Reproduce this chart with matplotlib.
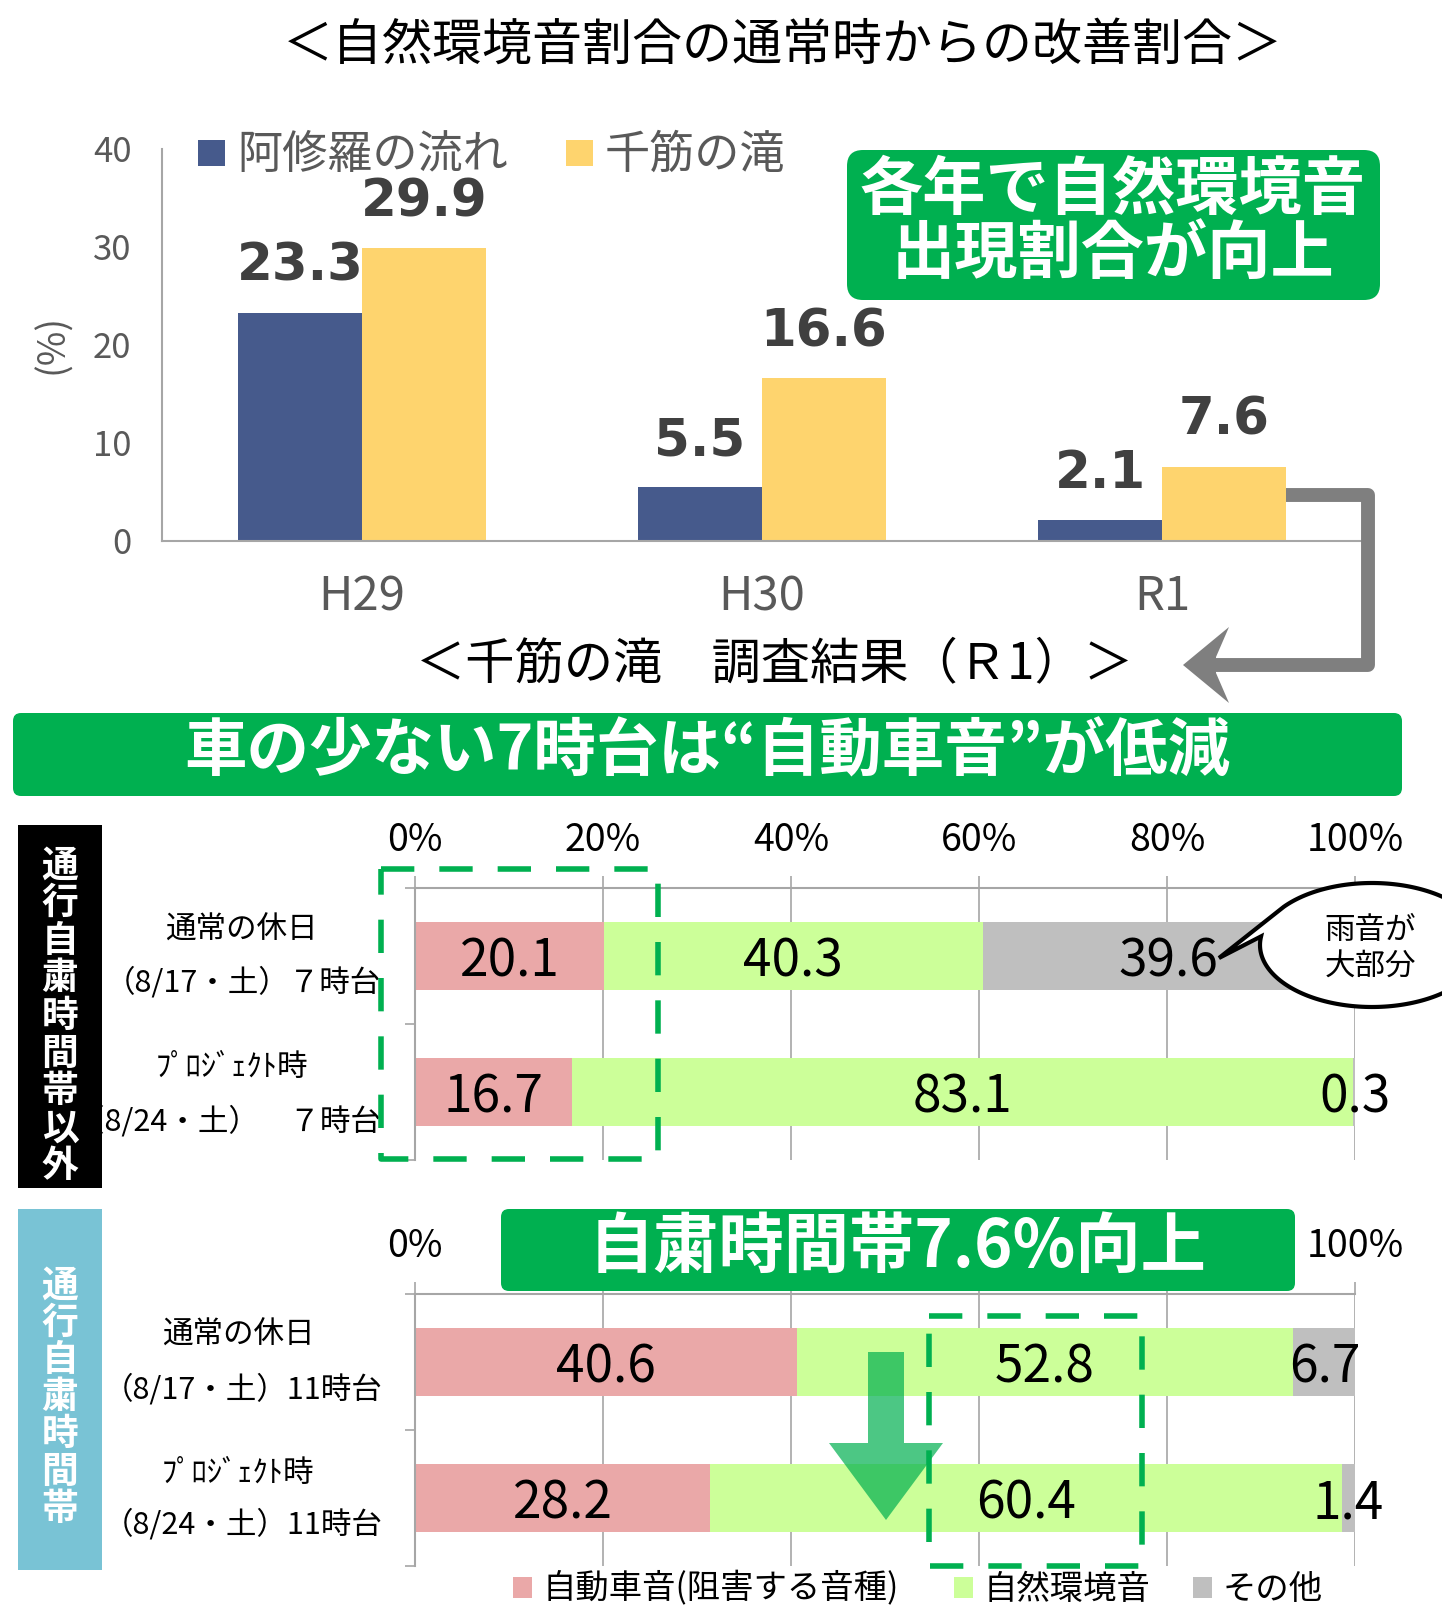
import matplotlib
matplotlib.use('Agg')
import matplotlib.pyplot as plt
import numpy as np
from matplotlib.patches import Rectangle, FancyBboxPatch, Polygon
from matplotlib.lines import Line2D
from matplotlib.transforms import Affine2D

plt.rcParams['font.family'] = ['Noto Sans CJK JP', 'DejaVu Sans']

# ---------------- data ----------------
title = '＜自然環境音割合の通常時からの改善割合＞'
years = ['H29', 'H30', 'R1']
asura = [23.3, 5.5, 2.1]
senkin = [29.9, 16.6, 7.6]
series_names = ['阿修羅の流れ', '千筋の滝']
y_ticks = [0, 10, 20, 30, 40]

subtitle = '＜千筋の滝　調査結果（Ｒ1）＞'
banner = '車の少ない7時台は“自動車音”が低減'
callout1 = ['各年で自然環境音', '出現割合が向上']
callout2 = '自粛時間帯7.6%向上'

seg_names = ['自動車音(阻害する音種)', '自然環境音', 'その他']
pct_ticks = [0, 20, 40, 60, 80, 100]
pct_tick_labels = ['0%', '20%', '40%', '60%', '80%', '100%']
# in the lower chart the middle tick labels are covered by the green box
pct_tick_labels_lower = ['0%', '', '', '', '', '100%']

# outside restricted hours (7時台)
out_line1 = ['通常の休日', 'ﾌﾟﾛｼﾞｪｸﾄ時']
out_line2 = ['（8/17・土）７時台', '（8/24・土）　７時台']
out_car = [20.1, 16.7]
out_nature = [40.3, 83.1]
out_other = [39.6, 0.3]
out_labels = [['20.1', '40.3', '39.6'], ['16.7', '83.1', '0.3']]

# restricted hours (11時台) - bar lengths as drawn, labels as printed
in_line1 = ['通常の休日', 'ﾌﾟﾛｼﾞｪｸﾄ時']
in_line2 = ['（8/17・土）11時台', '（8/24・土）11時台']
in_car = [40.6, 31.4]
in_nature = [52.8, 67.2]
in_other = [6.7, 1.4]
in_labels = [['40.6', '52.8', '6.7'], ['28.2', '60.4', '1.4']]

side1 = '通行自粛時間帯以外'
side2 = '通行自粛時間帯'
bubble_lines = ['雨音が', '大部分']

# ---------------- styles ----------------
W, H = 1442, 1609
BLUE = '#465A8C'
YELLOW = '#FED46E'
PINK = '#EAA8A8'
LGREEN = '#CCFF99'
LGRAY = '#BFBFBF'
GREEN = '#00B050'
TXTGRAY = '#595959'
GRID = '#A6A6A6'
FIGBLUE = '#79C3D5'

fig = plt.figure(figsize=(W / 100, H / 100), dpi=100)
pix = Affine2D().scale(1.0 / W, 1.0 / H) + fig.transFigure


def P(x, y):
    return (x, H - y)


def ftext(x, y, s, **kw):
    fig.text(x, H - y, s, transform=pix, **kw)


def axes_px(left, top, right, bottom):
    return fig.add_axes([left / W, 1 - bottom / H, (right - left) / W, (bottom - top) / H])


def rbox(x0, y0, x1, y1, r, color, z=5):
    p = FancyBboxPatch(P(x0, y1), x1 - x0, y1 - y0,
                       boxstyle='round,pad=0,rounding_size=%g' % r,
                       fc=color, ec='none', transform=pix, zorder=z)
    fig.add_artist(p)


# ---------------- title ----------------
ftext(783, 46, title, ha='center', va='center', fontsize=36, color='black')

# ---------------- top bar chart ----------------
ax1 = axes_px(162, 149, 1362, 541)
x = np.arange(len(years))
bw = 0.31
b1 = ax1.bar(x - bw / 2, asura, width=bw, color=BLUE, zorder=2)
b2 = ax1.bar(x + bw / 2, senkin, width=bw, color=YELLOW, zorder=2)
for bars, vals in ((b1, asura), (b2, senkin)):
    for rect, v in zip(bars, vals):
        ax1.annotate('%.1f' % v, (rect.get_x() + rect.get_width() / 2, v),
                     xytext=(0, 23), textcoords='offset points',
                     ha='center', va='baseline', fontsize=37,
                     fontweight='bold', color='#404040', family='DejaVu Sans')
ax1.set_xlim(-0.5, 2.5)
ax1.set_ylim(0, 40)
ax1.set_yticks(y_ticks)
ax1.set_xticks(x)
ax1.set_xticklabels(years)
ax1.tick_params(axis='y', length=0, pad=22, labelsize=25, labelcolor=TXTGRAY)
ax1.tick_params(axis='x', length=0, pad=23, labelsize=34, labelcolor=TXTGRAY)
for s in ('top', 'right'):
    ax1.spines[s].set_visible(False)
for s in ('left', 'bottom'):
    ax1.spines[s].set_color(GRID)
    ax1.spines[s].set_linewidth(1.5)
ax1.patch.set_alpha(0)
ftext(53, 344, '(%)', rotation=90, ha='center', va='center', fontsize=27, color=TXTGRAY)

# legend
fig.add_artist(Rectangle(P(198, 166), 27, 26, fc=BLUE, ec='none', transform=pix))
ftext(237, 155, series_names[0], ha='left', va='center', fontsize=32.5, color=TXTGRAY)
fig.add_artist(Rectangle(P(566, 166), 27, 26, fc=YELLOW, ec='none', transform=pix))
ftext(605, 155, series_names[1], ha='left', va='center', fontsize=32.5, color=TXTGRAY)

# green callout
rbox(847, 150, 1380, 300, 16, GREEN)
ftext(1113, 190, callout1[0], ha='center', va='center', fontsize=45.5,
      fontweight='bold', color='white', zorder=6)
ftext(1113, 254, callout1[1], ha='center', va='center', fontsize=45.5,
      fontweight='bold', color='white', zorder=6)

# gray connector arrow
xs = [1286, 1368, 1368, 1214]
ys = [495, 495, 665, 665]
fig.add_artist(Line2D(xs, [H - v for v in ys], transform=pix, color='#7F7F7F',
                      lw=10, solid_joinstyle='round', solid_capstyle='butt', zorder=5))
head = [(1183, 665), (1229, 627), (1216, 657), (1216, 673), (1229, 703)]
fig.add_artist(Polygon([P(a, b) for a, b in head], closed=True, fc='#7F7F7F',
                       ec='none', transform=pix, zorder=5))

ftext(774, 664, subtitle, ha='center', va='center', fontsize=35.5, color='black')

# banner
rbox(13, 713, 1402, 796, 8, GREEN)
ftext(707, 752, banner, ha='center', va='center', fontsize=45,
      fontweight='bold', color='white', zorder=6)


# ---------------- stacked charts ----------------
def stacked(ax, car, nat, oth, labels, ticklabels):
    yy = np.arange(len(car))
    h = 0.505
    lefts = [np.zeros(len(car)), np.array(car), np.array(car) + np.array(nat)]
    vals = [car, nat, oth]
    cols = [PINK, LGREEN, LGRAY]
    for i in range(3):
        ax.barh(yy, vals[i], left=lefts[i], height=h, color=cols[i], zorder=2)
        for j in range(len(yy)):
            ax.annotate(labels[j][i], (lefts[i][j] + vals[i][j] / 2, yy[j]),
                        xytext=(0, -4), textcoords='offset points',
                        ha='center', va='center', fontsize=37, color='black',
                        zorder=4, annotation_clip=False)
    ax.set_xlim(0, 100)
    ax.set_ylim(1.5, -0.5)
    ax.set_xticks(pct_ticks)
    ax.set_xticklabels(ticklabels)
    ax.xaxis.tick_top()
    ax.tick_params(axis='x', top=True, bottom=False, labeltop=True, labelbottom=False,
                   length=9, width=1.2, color=GRID, pad=11.5, labelsize=27)
    ax.set_yticks([-0.5, 0.5, 1.5])
    ax.set_yticklabels([])
    ax.tick_params(axis='y', length=7, width=1.2, color=GRID)
    ax.grid(axis='x', color=GRID, lw=1.2)
    ax.set_axisbelow(True)
    for s in ('bottom', 'right'):
        ax.spines[s].set_visible(False)
    for s in ('top', 'left'):
        ax.spines[s].set_color(GRID)
        ax.spines[s].set_linewidth(1.5)
    ax.patch.set_alpha(0)


ax2 = axes_px(415, 888, 1355, 1160)
stacked(ax2, out_car, out_nature, out_other, out_labels, pct_tick_labels)
ax3 = axes_px(415, 1294, 1355, 1566)
stacked(ax3, in_car, in_nature, in_other, in_labels, pct_tick_labels_lower)

# side boxes
fig.add_artist(Rectangle(P(18, 1188), 84, 363, fc='black', ec='none', transform=pix))
for i, ch in enumerate(side1):
    ftext(60, 866 + i * 37.6, ch, ha='center', va='center', fontsize=26.5,
          fontweight='bold', color='white')
fig.add_artist(Rectangle(P(18, 1570), 84, 361, fc=FIGBLUE, ec='none', transform=pix))
for i, ch in enumerate(side2):
    ftext(60, 1286 + i * 37.2, ch, ha='center', va='center', fontsize=26.5,
          fontweight='bold', color='white')

# row labels
ftext(241, 930, out_line1[0], ha='center', va='center', fontsize=22)
ftext(381, 983, out_line2[0], ha='right', va='center', fontsize=22)
ftext(232, 1068, out_line1[1], ha='center', va='center', fontsize=22)
ftext(381, 1122, out_line2[1], ha='right', va='center', fontsize=22)
ftext(238, 1335, in_line1[0], ha='center', va='center', fontsize=22)
ftext(383, 1390, in_line2[0], ha='right', va='center', fontsize=22)
ftext(238, 1473, in_line1[1], ha='center', va='center', fontsize=22)
ftext(383, 1525, in_line2[1], ha='right', va='center', fontsize=22)


# dashed boxes
def dbox(x0, y0, x1, y1):
    xs_ = [x0, x1, x1, x0, x0]
    ys_ = [y0, y0, y1, y1, y0]
    fig.add_artist(Line2D(xs_, [H - v for v in ys_], transform=pix, color=GREEN,
                          lw=4, dashes=(6, 4.5), zorder=6))


dbox(381, 869, 658, 1159)
dbox(929, 1316, 1142, 1566)

# green box over bottom chart
rbox(501, 1209, 1295, 1291, 8, GREEN)
ftext(898, 1248, callout2, ha='center', va='center', fontsize=47,
      fontweight='bold', color='white', zorder=6)

# green down arrow
cx = 886
arrow = [(cx - 18, 1352), (cx + 18, 1352), (cx + 18, 1443), (cx + 57, 1443),
         (cx, 1520), (cx - 57, 1443), (cx - 18, 1443)]
fig.add_artist(Polygon([P(a, b) for a, b in arrow], closed=True, fc=GREEN,
                       ec='none', alpha=0.7, transform=pix, zorder=5))

# speech bubble
bcx, bcy, ba, bb = 1372, 945, 112, 62
angs = np.linspace(np.deg2rad(172), np.deg2rad(172 + 330), 200)
pts = [(bcx + ba * np.cos(t), bcy - bb * np.sin(t)) for t in angs]
verts = [(1219, 958)] + pts + [(1219, 958)]
fig.add_artist(Polygon([P(a, b) for a, b in verts], closed=True, fc='white',
                       ec='black', lw=3, transform=pix, zorder=7))
ftext(1370, 930, bubble_lines[0], ha='center', va='center', fontsize=22, zorder=8)
ftext(1370, 967, bubble_lines[1], ha='center', va='center', fontsize=22, zorder=8)

# bottom legend
leg_x = [513, 954, 1193]
leg_c = [PINK, LGREEN, LGRAY]
for lx, lc, nm in zip(leg_x, leg_c, seg_names):
    fig.add_artist(Rectangle(P(lx, 1598), 19, 21, fc=lc, ec='none', transform=pix))
    ftext(lx + 30, 1589, nm, ha='left', va='center', fontsize=24)

fig.savefig('out.png', dpi=100)
